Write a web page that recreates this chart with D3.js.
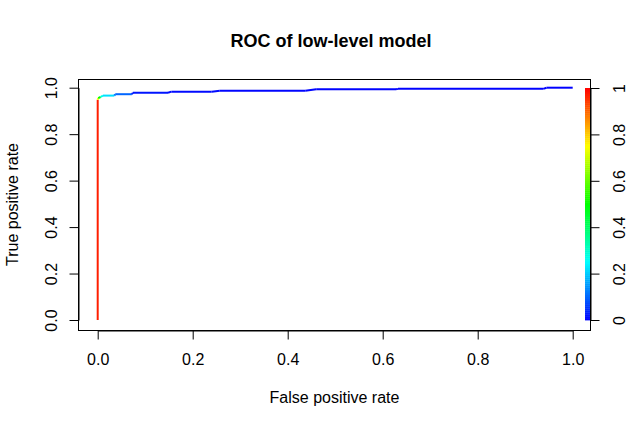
<!DOCTYPE html>
<html>
<head>
<meta charset="utf-8">
<script src="https://cdn.jsdelivr.net/npm/d3@7/dist/d3.min.js"></script>
<style>
  html, body { margin: 0; padding: 0; background: #fff; }
  svg { display: block; }
  text { font-family: "Liberation Sans", Arial, Helvetica, sans-serif; fill: #000; }
</style>
</head>
<body>
<svg id="chart" width="631" height="428"></svg>
<script>
// ---- data (ROC curve) ----
const fpr    = [0, 0,     0.001, 0.006, 0.011, 0.035, 0.037, 0.072, 0.074, 0.148, 0.155, 0.240, 0.257, 0.437, 0.460, 0.628, 0.632, 0.938, 0.945, 1.0];
const tpr    = [0, 0.948, 0.955, 0.960, 0.966, 0.966, 0.972, 0.972, 0.978, 0.978, 0.983, 0.983, 0.987, 0.987, 0.993, 0.993, 0.995, 0.995, 1.0,   1.0];
const cutoff = [1, 0.97,  0.75,  0.50,  0.27,  0.22,  0.12,  0.10,  0.03,  0.02,  0.01,  0.01,  0.01,  0.005, 0.004, 0.003, 0.002, 0.001, 0.0,   0.0];
const axisTicks  = [0, 0.2, 0.4, 0.6, 0.8, 1.0];
const axisLabels = ["0.0", "0.2", "0.4", "0.6", "0.8", "1.0"];
const barTicks   = [0, 0.2, 0.4, 0.6, 0.8, 1];
const barLabels  = ["0", "0.2", "0.4", "0.6", "0.8", "1"];
const titleText  = "ROC of low-level model";
const xLabel     = "False positive rate";
const yLabel     = "True positive rate";

// ---- layout ----
const FS = "16px";
const svg = d3.select("#chart");
const x = d3.scaleLinear().domain([0, 1]).range([97.7, 572.7]);
const y = d3.scaleLinear().domain([0, 1]).range([320, 87.7]);
const box = { x0: 78.5, x1: 590.5, y0: 79.5, y1: 330.5 };
const cutScale = d3.scaleLinear().domain([0, 1]).range([320, 88]);
const color = c => d3.hsl((1 - c) * 240, 1, 0.5).toString();

// ---- curve segments colored by cutoff ----
const pts = fpr.map((f, i) => ({ f, t: tpr[i], c: cutoff[i] }));
const segs = d3.pairs(pts);
svg.append("g").selectAll("line").data(segs).join("line")
  .attr("x1", d => x(d[0].f)).attr("y1", d => y(d[0].t))
  .attr("x2", d => x(d[1].f)).attr("y2", d => y(d[1].t))
  .attr("stroke", d => color(d[1].c))
  .attr("stroke-width", 2)
  .attr("stroke-linecap", "butt");

// ---- colorbar ----
const nBar = 120;
const barSteps = d3.range(nBar).map(i => i / nBar);
svg.append("g").selectAll("rect").data(barSteps).join("rect")
  .attr("x", 585)
  .attr("width", 5.5)
  .attr("y", d => cutScale(d + 1 / nBar))
  .attr("height", d => cutScale(d) - cutScale(d + 1 / nBar) + 0.4)
  .attr("fill", d => color(d + 0.5 / nBar));

// ---- box ----
svg.append("rect")
  .attr("x", box.x0).attr("y", box.y0)
  .attr("width", box.x1 - box.x0).attr("height", box.y1 - box.y0)
  .attr("fill", "none").attr("stroke", "#000").attr("stroke-width", 1);

// ---- axes ----
const fmtX = d => axisLabels[axisTicks.indexOf(d)];
const gx = svg.append("g").attr("transform", `translate(0,${box.y1})`)
  .call(d3.axisBottom(x).tickValues(axisTicks).tickFormat(fmtX).tickSize(9).tickSizeOuter(0).tickPadding(14));
const gy = svg.append("g").attr("transform", `translate(${box.x0},0)`)
  .call(d3.axisLeft(y).tickValues(axisTicks).tickFormat(fmtX).tickSize(9).tickSizeOuter(0).tickPadding(0));
const gr = svg.append("g").attr("transform", `translate(${box.x1},0)`)
  .call(d3.axisRight(cutScale).tickValues(barTicks).tickFormat(d => barLabels[barTicks.indexOf(d)]).tickSize(9).tickSizeOuter(0));

[gx, gy, gr].forEach(g => {
  g.attr("font-size", null).attr("font-family", null);
  g.selectAll("path.domain").attr("stroke", "#000").attr("stroke-width", 1);
  g.selectAll(".tick line").attr("stroke", "#000").attr("stroke-width", 1);
  g.selectAll("text").style("font-family", "'Liberation Sans', Arial, sans-serif").style("font-size", FS).attr("fill", "#000");
});
gx.selectAll("text").attr("dy", "0.71em");
gy.selectAll("text")
  .attr("x", 0).attr("dy", 0).attr("y", 0)
  .attr("text-anchor", "middle")
  .attr("transform", "translate(-22,0) rotate(-90)");
gr.selectAll("text")
  .attr("x", 0).attr("dy", 0).attr("y", 0)
  .attr("text-anchor", "middle")
  .attr("transform", "translate(34,0) rotate(-90)");

// ---- titles ----
svg.append("text").attr("x", 331).attr("y", 47)
  .attr("text-anchor", "middle").style("font-size", "18px").style("font-weight", "bold")
  .text(titleText);
svg.append("text").attr("x", 334.5).attr("y", 403)
  .attr("text-anchor", "middle").style("font-size", FS)
  .text(xLabel);
svg.append("text").attr("transform", "translate(18,204.5) rotate(-90)")
  .attr("text-anchor", "middle").style("font-size", FS)
  .text(yLabel);
</script>
</body>
</html>
